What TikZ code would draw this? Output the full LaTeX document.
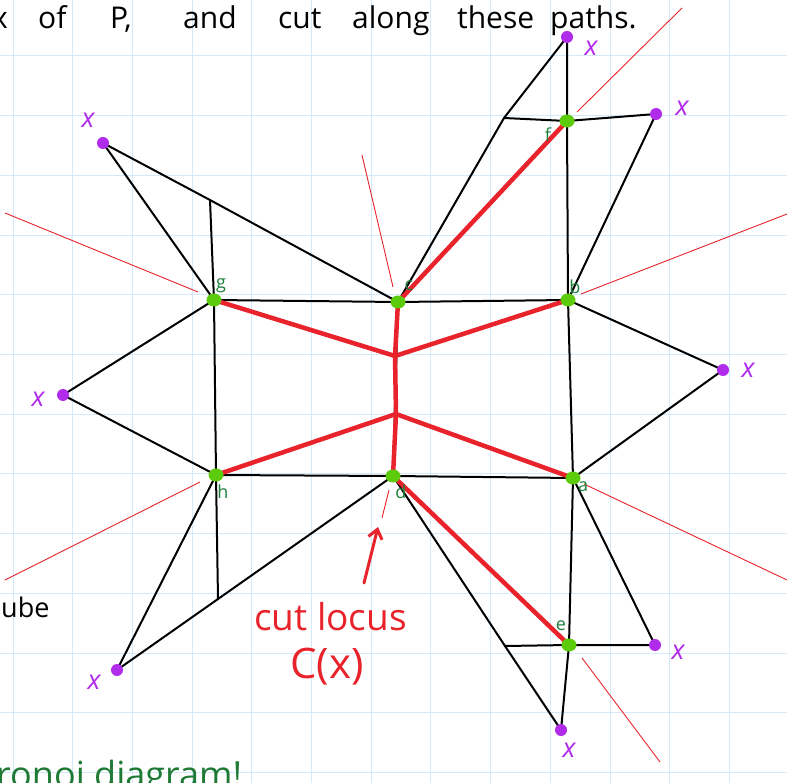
\documentclass[tikz,border=0pt]{standalone}
\usepackage{fontspec}
\setmainfont{Open Sans}
\usetikzlibrary{arrows.meta,shapes.geometric}
\definecolor{gridblue}{HTML}{D4EAFA}
\definecolor{cutred}{HTML}{E8232B}
\definecolor{ptpurple}{HTML}{B12BEA}
\definecolor{vgreen}{HTML}{5CCB0C}
\definecolor{lblgreen}{HTML}{1E7F3C}
\definecolor{textgreen}{HTML}{1F7A35}
\begin{document}
\begin{tikzpicture}[x=1pt,y=-1pt,
  gridline/.style={draw=gridblue, line width=1pt},
  edge/.style={draw=black, line width=2pt, line cap=round, line join=round},
  cutline/.style={draw=cutred, line width=4.5pt, line cap=round, line join=round},
  ray/.style={draw=cutred, line width=0.9pt},
  vdot/.style={ellipse, fill=vgreen, minimum width=15pt, minimum height=13pt, inner sep=0pt},
  xdot/.style={circle, fill=ptpurple, minimum size=12pt, inner sep=0pt},
  xlbl/.style={text=ptpurple, font=\fontsize{27}{27}\selectfont\itshape, inner sep=0pt},
  vlbl/.style={text=lblgreen, font=\fontsize{18}{18}\selectfont, inner sep=0pt},
  hand/.style={inner sep=0pt, anchor=base west, font=\fontsize{30}{30}\selectfont}
]
\useasboundingbox (0,0) rectangle (787,783);
\fill[white] (0,0) rectangle (787,783);
% grid
\foreach \i in {0,...,12} \draw[gridline] ({13+59.7*\i},0) -- ({13+59.7*\i},783);
\foreach \j in {0,...,12} \draw[gridline] (0,{56+59.7*\j}) -- (787,{56+59.7*\j});

% points
\coordinate (g) at (214,300);
\coordinate (c) at (398,302);
\coordinate (b) at (568,300);
\coordinate (h) at (216,475);
\coordinate (d) at (393,476);
\coordinate (a) at (573,478);
\coordinate (f) at (567,121);
\coordinate (e) at (569,645);
\coordinate (m1) at (395,356);
\coordinate (m2) at (396,414);
\coordinate (Xt) at (567,37);
\coordinate (Xur) at (656,114);
\coordinate (Xul) at (103,143);
\coordinate (Xl) at (63,395);
\coordinate (Xr) at (723,370);
\coordinate (Xbl) at (117,670);
\coordinate (Xbr) at (655,645);
\coordinate (Xb) at (561,730);
\coordinate (j1) at (504,118);
\coordinate (j2) at (210,200);
\coordinate (j3) at (218,599);
\coordinate (j4) at (505,646);

% thin red rays
\coordinate (rf1) at (577,112); \coordinate (rf2) at (682,8);
\coordinate (rg1) at (198,292); \coordinate (rg2) at (5,213);
\coordinate (rc1) at (393,287); \coordinate (rc2) at (362,155);
\coordinate (rb1) at (581,294); \coordinate (rb2) at (787,214);
\coordinate (ra1) at (584,484); \coordinate (ra2) at (787,580);
\coordinate (rh1) at (200,482); \coordinate (rh2) at (5,580);
\coordinate (rd1) at (389,490); \coordinate (rd2) at (382,518);
\coordinate (re1) at (582,658); \coordinate (re2) at (660,762);
\foreach \p in {f,g,c,b,a,h,d,e} \draw[ray] (r\p1) -- (r\p2);

% black edges
\draw[edge] (Xt) -- (j1) -- (c);
\draw[edge] (Xt) -- (f) -- (b) -- (a) -- (e) -- (Xb);
\draw[edge] (j1) -- (f) -- (Xur) -- (b);
\draw[edge] (Xul) -- (g);
\draw[edge] (Xul) -- (j2) -- (c);
\draw[edge] (j2) -- (g) -- (h) -- (j3);
\draw[edge] (g) -- (c) -- (b);
\draw[edge] (g) -- (Xl) -- (h);
\draw[edge] (b) -- (Xr) -- (a);
\draw[edge] (h) -- (d) -- (a);
\draw[edge] (c) -- (d);
\draw[edge] (Xbl) -- (h);
\draw[edge] (Xbl) -- (j3) -- (d);
\draw[edge] (d) -- (j4) -- (Xb);
\draw[edge] (j4) -- (e) -- (Xbr) -- (a);

% cut locus
\draw[cutline] (g) -- (m1) -- (b);
\draw[cutline] (h) -- (m2) -- (a);
\draw[cutline] (c) -- (m1) -- (m2) -- (d);
\draw[cutline] (c) -- (f);
\draw[cutline] (d) -- (e);

% vertices
\foreach \p in {g,c,b,a,h,d,f,e} \node[vdot] (\p dot) at (\p) {};
\node[vlbl] (lg) at (221,286) {g};
\node[vlbl] (lc) at (409,286) {c};
\node[vlbl] (lb) at (575,287) {b};
\node[vlbl] (lf) at (548,135) {f};
\node[vlbl] (lh) at (223,492) {h};
\node[vlbl] (ld) at (401,492) {d};
\node[vlbl] (la) at (583,487) {a};
\node[vlbl] (le) at (561,626) {e};

% points x
\foreach \p in {Xt,Xur,Xul,Xl,Xr,Xbl,Xbr,Xb} \node[xdot] (\p dot) at (\p) {};
\node[xlbl] (lXt) at (591,48) {x};
\node[xlbl] (lXur) at (682,108) {x};
\node[xlbl] (lXul) at (88,120) {x};
\node[xlbl] (lXl) at (38,399) {x};
\node[xlbl] (lXr) at (748,370) {x};
\node[xlbl] (lXbl) at (94,682) {x};
\node[xlbl] (lXbr) at (678,652) {x};
\node[xlbl] (lXb) at (569,750) {x};

% arrow to cut locus
\coordinate (arT) at (378,527);
\node[text=cutred, font=\fontsize{37}{37}\selectfont, inner sep=0pt, anchor=base west] (cl) at (254,630) {cut locus};
\node[text=cutred, font=\fontsize{42}{42}\selectfont, inner sep=0pt, anchor=base west] (cx) at (290,678) {C(x)};
\coordinate (arB) at (364,583);
\draw[draw=cutred, line width=3pt, line cap=round, -{Straight Barb[length=9pt,width=14pt,line width=3pt]}] (arB) -- (arT);

% handwritten text
\node[hand, anchor=base east] (w0) at (8,29) {x};
\node[hand] (w1) at (38,29) {of};
\node[hand] (w2) at (110,29) {P,};
\node[hand] (w3) at (183,29) {and};
\node[hand] (w4) at (278,29) {cut};
\node[hand] (w5) at (352,29) {along};
\node[hand] (w6) at (457,29) {these};
\node[hand] (w7) at (550,29) {paths.};
\node[inner sep=0pt, anchor=base west, font=\fontsize{27}{27}\selectfont] (cube) at (1,617) {ube};
\node[inner sep=0pt, anchor=base west, text=textgreen, font=\fontsize{36}{36}\selectfont] (vor) at (-4,787) {ronoi diagram!};
\end{tikzpicture}
\end{document}
